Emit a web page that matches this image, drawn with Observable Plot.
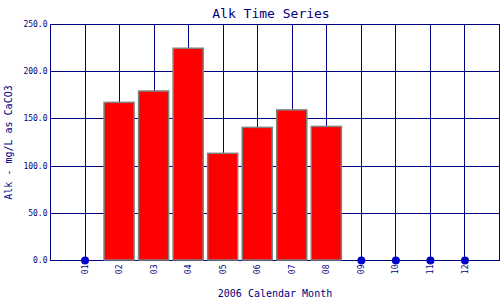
<!DOCTYPE html>
<html>
<head>
<meta charset="utf-8">
<script src="https://cdn.jsdelivr.net/npm/d3@7"></script>
<script src="https://cdn.jsdelivr.net/npm/@observablehq/plot@0.6"></script>
<style>
  html, body { margin: 0; padding: 0; background: #fff; }
  #chart svg { display: block; }
</style>
</head>
<body>
<div id="chart"></div>
<script>
const months = ["01","02","03","04","05","06","07","08","09","10","11","12"];
const alk = [null, 167.0, 179.0, 224.3, 113.0, 140.5, 159.0, 141.5, null, null, null, null];
const yTicks = [0, 50, 100, 150, 200, 250];
const title = "Alk Time Series";
const xLabel = "2006 Calendar Month";
const yLabel = "Alk - mg/L as CaCO3";

const navy = "#000080";
const data = months.map((m, i) => ({month: m, value: alk[i]}));
const bars = data.filter(d => d.value != null);
const missing = data.filter(d => d.value == null);

const chart = Plot.plot({
  width: 500,
  height: 300,
  marginLeft: 50,
  marginRight: 1,
  marginTop: 24,
  marginBottom: 40,
  style: {fontFamily: "'DejaVu Sans Mono', monospace", color: navy, background: "#fff"},
  x: {type: "band", domain: months, paddingInner: 0.13, paddingOuter: 0.565, round: false},
  y: {domain: [0, 250]},
  marks: [
    Plot.gridY(yTicks, {stroke: navy, strokeOpacity: 1, strokeWidth: 1, shapeRendering: "crispEdges"}),
    Plot.gridX(months, {stroke: navy, strokeOpacity: 1, strokeWidth: 1, shapeRendering: "crispEdges"}),
    Plot.frame({stroke: navy, strokeWidth: 1, shapeRendering: "crispEdges"}),
    Plot.barY(bars, {x: "month", y: "value", fill: "#ff0000", stroke: "#808080", strokeWidth: 1.5}),
    Plot.dot(missing, {x: "month", y: 0, r: 4, fill: "#0000cc", stroke: "none"}),
    Plot.axisY(yTicks, {tickSize: 0, tickPadding: 3, tickFormat: d3.format(".1f"), fontSize: 8, fill: navy,
      label: yLabel, labelAnchor: "center", labelArrow: "none", labelOffset: 46}),
    Plot.axisX(months, {tickSize: 0, tickPadding: 4, tickRotate: -90, fontSize: 8, fill: navy,
      label: xLabel, labelAnchor: "center", labelArrow: "none", labelOffset: 36}),
    Plot.text([title], {frameAnchor: "top", dy: -16, fontSize: 13, fill: navy, dx: -4})
  ]
});
chart.querySelectorAll("[aria-label='y-axis label'] text, [aria-label='x-axis label'] text").forEach(t => t.setAttribute("font-size", 10));
document.getElementById("chart").appendChild(chart);
</script>
</body>
</html>
